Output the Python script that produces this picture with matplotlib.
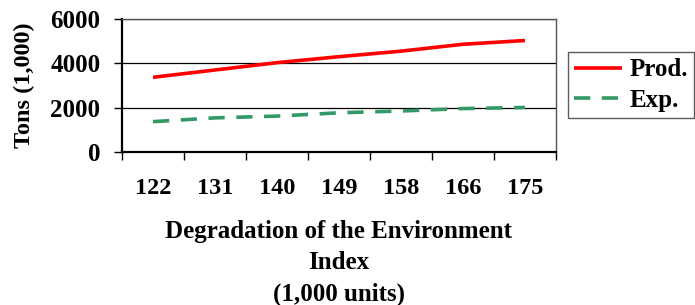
import numpy as np
import matplotlib
matplotlib.use('Agg')
import matplotlib.pyplot as plt

categories = ['122', '131', '140', '149', '158', '166', '175']
prod = [3370, 3700, 4030, 4300, 4550, 4860, 5030]
exp_ = [1370, 1540, 1620, 1770, 1850, 1960, 2010]
yticks = [0, 2000, 4000, 6000]

plt.rcParams['font.family'] = ['Liberation Serif', 'DejaVu Serif']
plt.rcParams['font.weight'] = 'bold'

fig = plt.figure(figsize=(6.95, 3.05), dpi=100)
ax = fig.add_axes([0.1755, 0.5016, 0.6245, 0.4361])

x = np.arange(len(categories))
ax.plot(x, prod, color='#FF0000', lw=2.6, label='Prod.', solid_capstyle='butt')
ax.plot(x, exp_, color='#339966', lw=2.6, dashes=(4.5, 3.2), label='Exp.')

ax.set_xlim(-0.5, len(categories) - 0.5)
ax.set_ylim(0, 6000)
ax.set_yticks(yticks)
ax.set_yticklabels([str(v) for v in yticks], fontsize=18, fontweight='bold')
for v in yticks[1:]:
    ax.axhline(v, color='black', lw=0.9, zorder=0)

# category boundaries for tick marks, labels centred
ax.set_xticks(np.arange(len(categories) + 1) - 0.5)
ax.set_xticklabels([])
ax.set_xticks(x, minor=True)
ax.set_xticklabels(categories, minor=True, fontsize=17.5, fontweight='bold')
ax.tick_params(axis='x', which='major', direction='out', length=6, width=1, color='black')
ax.tick_params(axis='x', which='minor', length=0, pad=19)
ax.tick_params(axis='y', direction='out', length=6, width=1, pad=9.5)

for s in ['left', 'bottom']:
    ax.spines[s].set_linewidth(1.6)
    ax.spines[s].set_color('black')
for s in ['top', 'right']:
    ax.spines[s].set_linewidth(1.0)
    ax.spines[s].set_color('#555555')

ax.set_ylabel('Tons (1,000)', fontsize=17.5, fontweight='bold', labelpad=11)
ax.set_xlabel('Degradation of the Environment\nIndex\n(1,000 units)',
              fontsize=18, fontweight='bold', labelpad=15, linespacing=1.45)

leg = fig.legend(loc='upper left', bbox_to_anchor=(568 / 695, 1 - 52 / 305),
                 fontsize=18, frameon=True, fancybox=False, handlelength=1.9,
                 handletextpad=0.3, borderpad=0.25, labelspacing=0.3,
                 borderaxespad=0)
leg.get_frame().set_edgecolor('#333333')
leg.get_frame().set_linewidth(1.0)
for t in leg.get_texts():
    t.set_fontweight('bold')

fig.savefig('out.png', dpi=100)
